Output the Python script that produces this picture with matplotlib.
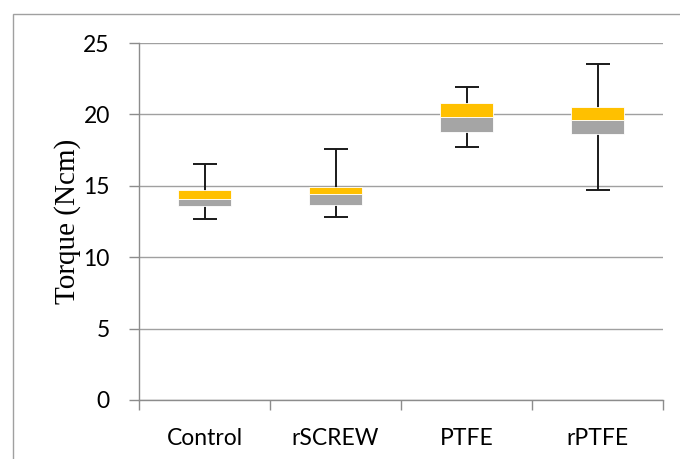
import matplotlib
matplotlib.use("Agg")
import matplotlib.pyplot as plt
import numpy as np
from matplotlib.patches import Rectangle

categories = ["Control", "rSCREW", "PTFE", "rPTFE"]
mins    = [12.7, 12.8, 17.7, 14.7]
q1      = [13.6, 13.65, 18.8, 18.6]
medians = [14.05, 14.45, 19.8, 19.6]
q3      = [14.7, 14.95, 20.8, 20.5]
maxs    = [16.5, 17.6, 21.9, 23.5]
yticks = [0, 5, 10, 15, 20, 25]

fig = plt.figure(figsize=(6.8, 4.59), dpi=100)
ax = fig.add_axes([139/680, 1-400/459, (663-139)/680, (400-43)/459])

x = np.arange(len(categories))
mins_a, q1_a, med_a, q3_a, max_a = map(np.array, (mins, q1, medians, q3, maxs))

# whiskers
mid = (mins_a + max_a) / 2
ax.errorbar(x, mid, yerr=[mid - mins_a, max_a - mid], fmt='none',
            ecolor='#1a1a1a', elinewidth=1.4, capsize=8.5, capthick=1.4, zorder=2)

bw = 0.40
ax.bar(x, med_a - q1_a, bottom=q1_a, width=bw, color='#A5A5A5',
       edgecolor='white', linewidth=0.6, zorder=3)
ax.bar(x, q3_a - med_a, bottom=med_a, width=bw, color='#FFC000',
       edgecolor='white', linewidth=0.6, zorder=3)

ax.set_xlim(-0.5, len(categories) - 0.5)
ax.set_ylim(0, 25)
ax.set_yticks(yticks)
ax.yaxis.grid(True, color='#A0A0A0', linewidth=1.0, zorder=0)
ax.set_axisbelow(True)

for s in ['top', 'right']:
    ax.spines[s].set_visible(False)
for s in ['left', 'bottom']:
    ax.spines[s].set_color('#8c8c8c')
    ax.spines[s].set_linewidth(1.0)

ax.set_xticks(x)
ax.set_xticklabels(categories)
ax.set_xticks(np.arange(-0.5, len(categories)), minor=True)
ax.tick_params(axis='x', which='major', length=0, pad=20)
ax.tick_params(axis='x', which='minor', length=7, color='#8c8c8c', width=1.0)
ax.tick_params(axis='y', length=7, color='#8c8c8c', width=1.0, pad=14)

for lab in ax.get_xticklabels() + ax.get_yticklabels():
    lab.set_fontfamily('Lato')
    lab.set_fontsize(16.5)
    lab.set_color('black')

ax.set_ylabel('Torque (Ncm)', fontfamily='Liberation Serif', fontsize=21, labelpad=2)

fig.patches.append(Rectangle((13/680, -0.2), 1.2, 1.2 - 14/459 + 0.0, transform=fig.transFigure,
                             fill=False, edgecolor='#A0A0A0', linewidth=1.0, zorder=0))

fig.savefig('out.png', dpi=100)
